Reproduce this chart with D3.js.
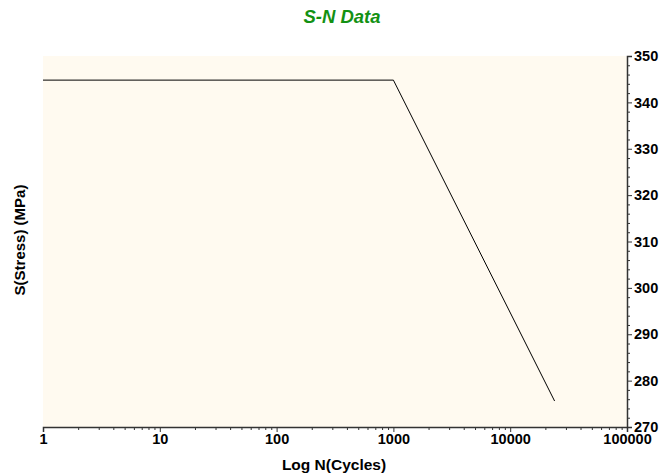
<!DOCTYPE html>
<html>
<head>
<meta charset="utf-8">
<script src="https://cdn.jsdelivr.net/npm/d3@7"></script>
<style>
  body { margin: 0; background: #fff; }
  svg { display: block; font-family: "Liberation Sans", Arial, sans-serif; }
</style>
</head>
<body>
<svg id="chart"></svg>
<script>
// S-N curve points (cycles, stress MPa)
const cycles = [1, 1000, 24000];
const stress = [344.8, 344.8, 275.6];
const xTicks = [1, 10, 100, 1000, 10000, 100000];
const yTicks = [270, 280, 290, 300, 310, 320, 330, 340, 350];

const width = 662, height = 475;
const margin = { top: 56, right: 35, bottom: 48, left: 43 };

const svg = d3.select("#chart")
    .attr("width", width)
    .attr("height", height)
    .attr("viewBox", [0, 0, width, height]);

const x = d3.scaleLog()
    .domain([1, 100000])
    .range([margin.left, width - margin.right]);

const y = d3.scaleLinear()
    .domain([270, 350])
    .range([height - margin.bottom, margin.top]);

// plot background
svg.append("rect")
    .attr("x", margin.left)
    .attr("y", margin.top)
    .attr("width", width - margin.left - margin.right)
    .attr("height", height - margin.top - margin.bottom)
    .attr("fill", "#fffaf0");

// minor ticks, bottom
const xMinor = [];
for (let e = 0; e < 5; e++) for (let k = 2; k <= 9; k++) xMinor.push(k * Math.pow(10, e));

svg.append("g")
    .attr("transform", `translate(0,${height - margin.bottom})`)
    .call(d3.axisBottom(x).tickValues(xMinor).tickSize(3).tickFormat(""))
    .call(g => g.select(".domain").remove())
    .call(g => g.selectAll(".tick line").attr("stroke", "#333"));

svg.append("g")
    .attr("transform", `translate(0,${height - margin.bottom})`)
    .call(d3.axisBottom(x).tickValues(xTicks).tickSize(5).tickPadding(2).tickFormat(d3.format("d")))
    .call(g => g.select(".domain").attr("stroke", "#333").attr("stroke-width", 1.5))
    .call(g => g.selectAll(".tick line").attr("stroke", "#333"))
    .call(g => g.selectAll(".tick text")
        .attr("fill", "#000")
        .attr("font-size", 14.5)
        .attr("font-weight", "bold"));

// minor ticks, right
const yMinor = d3.range(270, 351, 2).filter(v => v % 10 !== 0);

svg.append("g")
    .attr("transform", `translate(${width - margin.right},0)`)
    .call(d3.axisRight(y).tickValues(yMinor).tickSize(3).tickFormat(""))
    .call(g => g.select(".domain").remove())
    .call(g => g.selectAll(".tick line").attr("stroke", "#333"));

svg.append("g")
    .attr("transform", `translate(${width - margin.right},0)`)
    .call(d3.axisRight(y).tickValues(yTicks).tickSize(5).tickPadding(2))
    .call(g => g.select(".domain").attr("stroke", "#333").attr("stroke-width", 1.5))
    .call(g => g.selectAll(".tick line").attr("stroke", "#333"))
    .call(g => g.selectAll(".tick text")
        .attr("fill", "#000")
        .attr("font-size", 14.5)
        .attr("font-weight", "bold"));

// the curve
const pts = cycles.map((c, i) => [c, stress[i]]);
svg.append("path")
    .datum(pts)
    .attr("fill", "none")
    .attr("stroke", "#000")
    .attr("stroke-width", 1)
    .attr("d", d3.line().x(d => x(d[0])).y(d => y(d[1])));

// title
svg.append("text")
    .attr("x", 342)
    .attr("y", 23)
    .attr("text-anchor", "middle")
    .attr("font-size", 18.5)
    .attr("font-weight", "bold")
    .attr("font-style", "italic")
    .attr("fill", "#139113")
    .text("S-N Data");

// axis titles
svg.append("text")
    .attr("x", 334)
    .attr("y", 470)
    .attr("text-anchor", "middle")
    .attr("font-size", 15.5)
    .attr("font-weight", "bold")
    .text("Log N(Cycles)");

svg.append("text")
    .attr("transform", "translate(25,240) rotate(-90)")
    .attr("text-anchor", "middle")
    .attr("font-size", 15)
    .attr("font-weight", "bold")
    .text("S(Stress) (MPa)");
</script>
</body>
</html>
